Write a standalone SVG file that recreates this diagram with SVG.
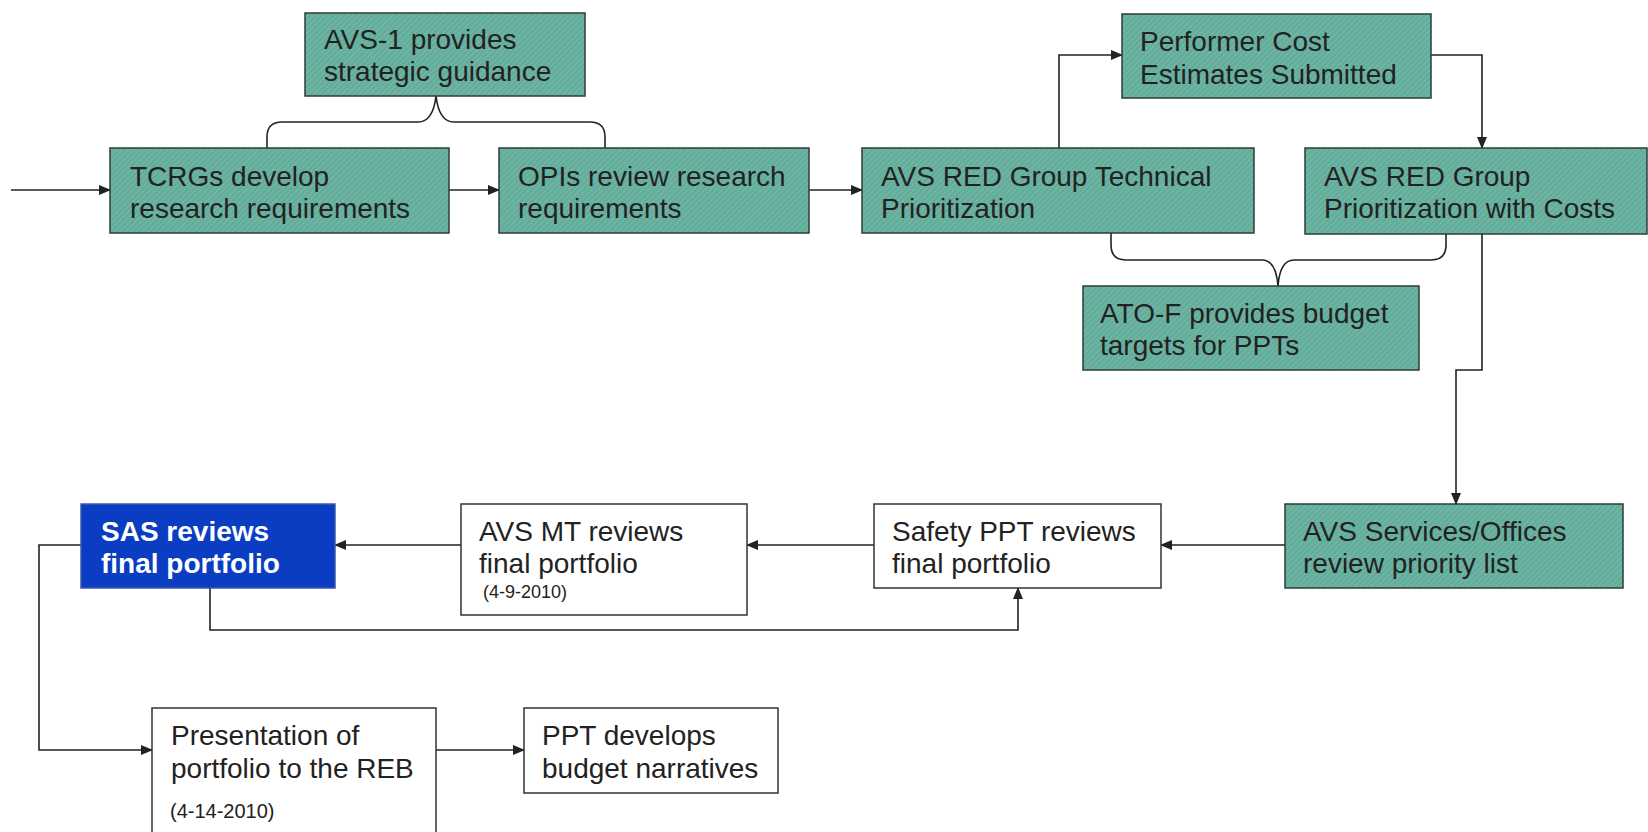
<svg xmlns="http://www.w3.org/2000/svg" width="1648" height="832" viewBox="0 0 1648 832">
<style>
.t{stroke:#2e3b36;stroke-width:1.5}
.w{fill:#ffffff;stroke:#333;stroke-width:1.5}
.b{fill:#0b3dc2;stroke:#3a5ab0;stroke-width:1.5}
text{font-family:"Liberation Sans",Arial,sans-serif;font-size:28px;fill:#222}
.small{font-size:18px}
.small2{font-size:20px}
.bw{fill:#ffffff;font-weight:bold}
.c{fill:none;stroke:#222;stroke-width:1.6}
</style>
<defs>
<pattern id="hatch" width="4" height="4" patternUnits="userSpaceOnUse" patternTransform="rotate(45)">
<rect width="4" height="4" fill="#64ad9c"/>
<line x1="0" y1="0" x2="0" y2="4" stroke="#80c2b1" stroke-width="1.2"/>
</pattern>
<marker id="ah" markerWidth="12" markerHeight="10" refX="11" refY="5" orient="auto" markerUnits="userSpaceOnUse">
<path d="M0,0 L12,5 L0,10 Z" fill="#222"/>
</marker>
</defs>
<rect width="1648" height="832" fill="#ffffff"/>

<g id="connectors">
<path class="c" d="M11,190 H110" marker-end="url(#ah)"/>
<path class="c" d="M449,190 H499" marker-end="url(#ah)"/>
<path class="c" d="M809,190 H862" marker-end="url(#ah)"/>
<path class="c" d="M1059,148 V55 H1122" marker-end="url(#ah)"/>
<path class="c" d="M1431,55 H1482 V148" marker-end="url(#ah)"/>
<path class="c" d="M1482,233 V370 H1456 V504" marker-end="url(#ah)"/>
<path class="c" d="M1285,545 H1161" marker-end="url(#ah)"/>
<path class="c" d="M874,545 H747" marker-end="url(#ah)"/>
<path class="c" d="M461,545 H335" marker-end="url(#ah)"/>
<path class="c" d="M210,588 V630 H1018 V588" marker-end="url(#ah)"/>
<path class="c" d="M81,545 H39 V750 H152" marker-end="url(#ah)"/>
<path class="c" d="M436,750 H524" marker-end="url(#ah)"/>
<path class="c" d="M267,148 V137 Q267,122 282,122 H418 Q433,122 436,96 Q439,122 454,122 H590 Q605,122 605,137 V148"/>
<path class="c" d="M1111,233 V245 Q1111,260 1126,260 H1262 Q1276,260 1278,286 Q1280,260 1294,260 H1431 Q1446,260 1446,245 V233"/>
</g>

<g id="avs1">
<rect class="t" x="305" y="13" width="280" height="83" fill="url(#hatch)"/>
<text x="324" y="49">AVS-1 provides</text>
<text x="324" y="81">strategic guidance</text>
</g>
<g id="tcrgs">
<rect class="t" x="110" y="148" width="339" height="85" fill="url(#hatch)"/>
<text x="130" y="186">TCRGs develop</text>
<text x="130" y="218">research requirements</text>
</g>
<g id="opis">
<rect class="t" x="499" y="148" width="310" height="85" fill="url(#hatch)"/>
<text x="518" y="186">OPIs review research</text>
<text x="518" y="218">requirements</text>
</g>
<g id="tech">
<rect class="t" x="862" y="148" width="392" height="85" fill="url(#hatch)"/>
<text x="881" y="186">AVS RED Group Technical</text>
<text x="881" y="218">Prioritization</text>
</g>
<g id="performer">
<rect class="t" x="1122" y="14" width="309" height="84" fill="url(#hatch)"/>
<text x="1140" y="51">Performer Cost</text>
<text x="1140" y="84">Estimates Submitted</text>
</g>
<g id="costs">
<rect class="t" x="1305" y="148" width="342" height="86" fill="url(#hatch)"/>
<text x="1324" y="186">AVS RED Group</text>
<text x="1324" y="218">Prioritization with Costs</text>
</g>
<g id="atof">
<rect class="t" x="1083" y="286" width="336" height="84" fill="url(#hatch)"/>
<text x="1100" y="323">ATO-F provides budget</text>
<text x="1100" y="355">targets for PPTs</text>
</g>
<g id="services">
<rect class="t" x="1285" y="504" width="338" height="84" fill="url(#hatch)"/>
<text x="1303" y="541">AVS Services/Offices</text>
<text x="1303" y="573">review priority list</text>
</g>
<g id="safety">
<rect class="w" x="874" y="504" width="287" height="84"/>
<text x="892" y="541">Safety PPT reviews</text>
<text x="892" y="573">final portfolio</text>
</g>
<g id="avsmt">
<rect class="w" x="461" y="504" width="286" height="111"/>
<text x="479" y="541">AVS MT reviews</text>
<text x="479" y="573">final portfolio</text>
<text class="small" x="483" y="598">(4-9-2010)</text>
</g>
<g id="sas">
<rect class="b" x="81" y="504" width="254" height="84"/>
<text class="bw" x="101" y="541">SAS reviews</text>
<text class="bw" x="101" y="573">final portfolio</text>
</g>
<g id="presentation">
<rect class="w" x="152" y="708" width="284" height="140"/>
<text x="171" y="745">Presentation of</text>
<text x="171" y="778">portfolio to the REB</text>
<text class="small2" x="170" y="818">(4-14-2010)</text>
</g>
<g id="ppt">
<rect class="w" x="524" y="708" width="254" height="85"/>
<text x="542" y="745">PPT develops</text>
<text x="542" y="778">budget narratives</text>
</g>
</svg>
